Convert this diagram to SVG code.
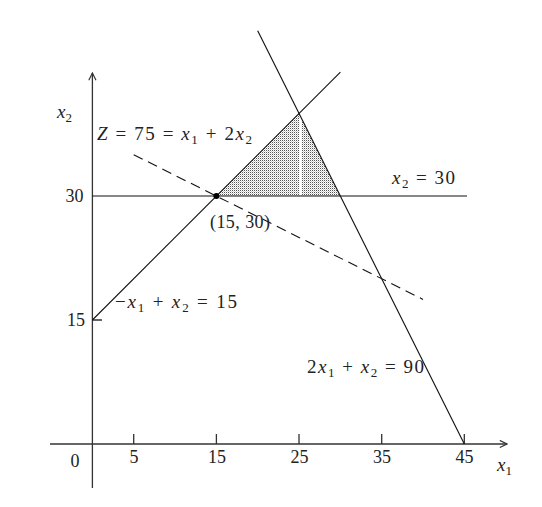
<svg xmlns="http://www.w3.org/2000/svg" width="542" height="507" viewBox="0 0 542 507">
<defs>
<style>
.ln{stroke:#111;stroke-width:1.1;fill:none}
.ax{stroke:#333;stroke-width:1.3;fill:none}
.t{font-family:"Liberation Serif","Times New Roman",serif;font-size:19px;fill:#222}
.n{font-size:18px}
.i{font-style:italic}
.s{font-size:13px}
</style>
<pattern id="dots" patternUnits="userSpaceOnUse" width="2" height="2">
<rect width="2" height="2" fill="#fff"/>
<rect width="1" height="1" fill="#555"/>
<rect x="1" y="1" width="1" height="1" fill="#ccc"/>
</pattern>
<marker id="arr" viewBox="0 0 10 10" refX="9" refY="5" markerWidth="9" markerHeight="9" markerUnits="userSpaceOnUse" orient="auto">
<path d="M1,1 L9,5 L1,9" fill="none" stroke="#333" stroke-width="1.3"/>
</marker>
</defs>
<rect width="542" height="507" fill="#fff"/>

<g id="region">
<polygon points="216.4,196 299,113.4 340.4,196" fill="url(#dots)"/>
<line x1="300.5" y1="118" x2="300.5" y2="195" stroke="#fff" stroke-width="2.5"/>
</g>

<g id="axes">
<line class="ax" x1="50" y1="444" x2="507" y2="444" marker-end="url(#arr)"/>
<line class="ax" x1="92.4" y1="488" x2="92.4" y2="73" marker-end="url(#arr)"/>
<path class="ax" d="M133.7,444V434M216.4,444V434M299,444V434M381.7,444V434M464.3,444V434M92.4,320H102"/>
</g>

<g id="connectors">
<line class="ln" x1="92.4" y1="196" x2="467" y2="196"/>
<line class="ln" x1="92.4" y1="320" x2="340.4" y2="72.1"/>
<line class="ln" x1="464.3" y1="444" x2="257.7" y2="30.75"/>
<line class="ln" x1="133.7" y1="154.7" x2="423" y2="299.4" stroke-dasharray="10,6"/>
</g>

<g id="point">
<circle cx="216.4" cy="196" r="3" fill="#000"/>
</g>

<g id="labels">
<text class="t i" x="57" y="118">x<tspan class="s" dy="4" font-style="normal">2</tspan></text>
<text class="t" x="97" y="140" textLength="155" lengthAdjust="spacing"><tspan class="i">Z</tspan> = 75 = <tspan class="i">x</tspan><tspan class="s" dy="4">1</tspan><tspan dy="-4"> + 2</tspan><tspan class="i">x</tspan><tspan class="s" dy="4">2</tspan></text>
<text class="t n" x="83.5" y="202" text-anchor="end">30</text>
<text class="t n" x="210" y="228" textLength="60" lengthAdjust="spacing">(15, 30)</text>
<text class="t" x="392" y="184" textLength="63" lengthAdjust="spacing"><tspan class="i">x</tspan><tspan class="s" dy="4">2</tspan><tspan dy="-4"> = 30</tspan></text>
<text class="t" x="115" y="308" textLength="122" lengthAdjust="spacing">−<tspan class="i">x</tspan><tspan class="s" dy="4">1</tspan><tspan dy="-4"> + </tspan><tspan class="i">x</tspan><tspan class="s" dy="4">2</tspan><tspan dy="-4"> = 15</tspan></text>
<text class="t n" x="85" y="326" text-anchor="end">15</text>
<text class="t" x="307" y="373" textLength="117" lengthAdjust="spacing">2<tspan class="i">x</tspan><tspan class="s" dy="4">1</tspan><tspan dy="-4"> + </tspan><tspan class="i">x</tspan><tspan class="s" dy="4">2</tspan><tspan dy="-4"> = 90</tspan></text>
<text class="t n" x="75" y="467" text-anchor="middle">0</text>
<text class="t n" x="134" y="463" text-anchor="middle">5</text>
<text class="t n" x="217" y="463" text-anchor="middle">15</text>
<text class="t n" x="299.5" y="463" text-anchor="middle">25</text>
<text class="t n" x="382" y="463" text-anchor="middle">35</text>
<text class="t n" x="464.5" y="463" text-anchor="middle">45</text>
<text class="t i" x="497" y="471">x<tspan class="s" dy="4" font-style="normal">1</tspan></text>
</g>
</svg>
